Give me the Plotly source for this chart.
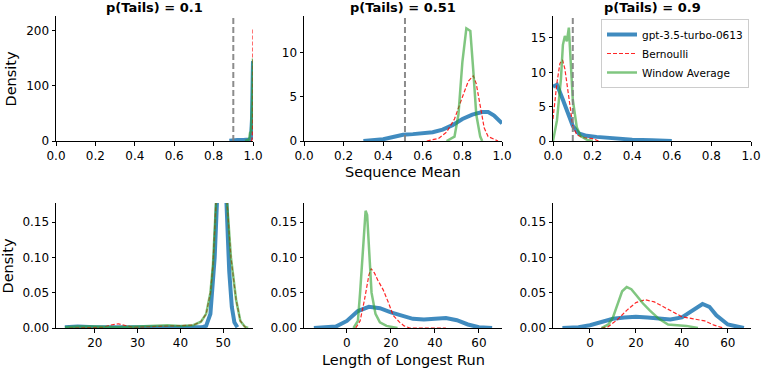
import plotly.graph_objects as go
from plotly.subplots import make_subplots

# column titles and the true p line drawn in the top row
titles = ["p(Tails) = 0.1", "p(Tails) = 0.51", "p(Tails) = 0.9"]
ref_means = [0.9, 0.51, 0.1]

# --- top row: density of the sequence mean ---
gpt_mean_x = [
    [0.88, 0.9, 0.92, 0.95, 0.97, 0.98, 0.99, 0.995, 1.0],
    [0.3, 0.35, 0.4, 0.45, 0.5, 0.55, 0.6, 0.65, 0.7, 0.75, 0.8, 0.85, 0.9, 0.93, 0.96, 1.0],
    [0.0, 0.02, 0.05, 0.08, 0.1, 0.13, 0.17, 0.22, 0.3, 0.4, 0.5, 0.6],
]
gpt_mean_y = [
    [0.5, 1.5, 2, 2, 2, 2.5, 5, 40, 145],
    [0.0, 0.05, 0.2, 0.45, 0.7, 0.78, 0.85, 1.0, 1.3, 1.8, 2.5, 3.0, 3.3, 3.3, 2.9, 2.0],
    [7.9, 8.2, 6.0, 3.5, 2.2, 1.1, 0.75, 0.6, 0.4, 0.2, 0.1, 0.0],
]
bern_mean_x = [
    [0.99, 0.995, 0.998, 1.0],
    [0.62, 0.68, 0.72, 0.76, 0.8, 0.83, 0.855, 0.87, 0.89, 0.91, 0.93, 0.96, 0.98],
    [0.0, 0.02, 0.035, 0.048, 0.06, 0.08, 0.1, 0.12, 0.15, 0.2, 0.23],
]
bern_mean_y = [
    [0, 2, 30, 205],
    [0.0, 0.3, 1.0, 2.5, 5.0, 6.8, 7.4, 6.5, 4.0, 1.5, 0.5, 0.2, 0.0],
    [3.2, 8.5, 11.3, 11.8, 10.5, 6.0, 2.2, 0.9, 0.5, 0.35, 0.0],
]
win_mean_x = [
    [0.96, 0.97, 0.98, 0.985, 0.99, 0.995, 1.0],
    [0.72, 0.76, 0.78, 0.8, 0.82, 0.84, 0.855, 0.87, 0.89, 0.9],
    [0.0, 0.02, 0.04, 0.05, 0.06, 0.07, 0.08, 0.09, 0.1, 0.12, 0.14, 0.17, 0.2],
]
win_mean_y = [
    [0, 1, 3, 15, 17, 60, 150],
    [0.0, 0.5, 3.0, 9.0, 12.8, 12.5, 8.0, 3.0, 0.5, 0.0],
    [0.0, 3.0, 9.0, 14.0, 15.3, 14.5, 16.5, 12.0, 6.0, 2.0, 0.7, 0.2, 0.0],
]

# --- bottom row: density of the length of the longest run ---
gpt_run_x = [
    [13, 16, 20, 25, 30, 35, 40, 45, 46, 47, 48, 48.8, 49.7, 50.6, 51.4, 52, 52.6, 53.3],
    [-15, -10, -5, 0, 5, 10, 15, 20, 25, 30, 35, 40, 45, 50, 55, 60, 66],
    [-12, -5, 0, 5, 10, 15, 20, 25, 30, 35, 40, 45, 49, 52, 55, 60, 67],
]
gpt_run_y = [
    [0.001, 0.002, 0.001, 0.001, 0.001, 0.001, 0.001, 0.001, 0.003, 0.02, 0.1, 0.2, 0.35, 0.2, 0.08, 0.03, 0.008, 0.001],
    [0.0, 0.0005, 0.002, 0.01, 0.024, 0.03, 0.028, 0.022, 0.017, 0.013, 0.012, 0.013, 0.014, 0.011, 0.005, 0.001, 0.0],
    [0.0, 0.001, 0.004, 0.009, 0.013, 0.015, 0.016, 0.015, 0.013, 0.012, 0.015, 0.025, 0.034, 0.03, 0.018, 0.005, 0.0],
]
bern_run_x = [
    [14, 20, 22, 23.5, 25.5, 27.5, 29, 33, 38, 43, 44.8, 46, 47, 47.6, 48.3, 49.6, 50.9, 51.8, 53, 54, 55, 55.5],
    [4, 6, 8, 10, 11, 12.5, 14, 16.5, 19, 21, 24, 26, 28.6, 35, 40, 45],
    [5, 8, 12, 16, 20, 24, 28, 32, 36, 40, 45, 50, 54, 58],
]
bern_run_y = [
    [0.0, 0.001, 0.001, 0.004, 0.006, 0.003, 0.001, 0.002, 0.003, 0.004, 0.009, 0.02, 0.05, 0.09, 0.177, 0.3, 0.177, 0.1, 0.04, 0.01, 0.002, 0.0],
    [0.0, 0.01, 0.04, 0.075, 0.084, 0.078, 0.068, 0.054, 0.035, 0.018, 0.008, 0.003, 0.0, 0.0, 0.001, 0.0],
    [0.0, 0.002, 0.012, 0.025, 0.036, 0.04, 0.037, 0.03, 0.022, 0.016, 0.013, 0.01, 0.004, 0.0],
]
win_run_x = [
    [13, 16, 20, 25, 30, 33, 37, 40, 43, 44.8, 46, 47, 47.6, 48.3, 49.6, 50.9, 51.8, 53, 54, 55, 55.8],
    [3, 5, 6, 7, 8, 8.5, 9.2, 10, 11.2, 13, 15, 18, 23],
    [5, 8, 10, 12, 14, 16, 18, 20, 23, 26, 30, 34, 38, 42, 47],
]
win_run_y = [
    [0.001, 0.002, 0.002, 0.001, 0.002, 0.003, 0.004, 0.003, 0.004, 0.009, 0.02, 0.05, 0.09, 0.177, 0.3, 0.177, 0.1, 0.04, 0.01, 0.002, 0.0],
    [0.0, 0.01, 0.05, 0.1, 0.15, 0.166, 0.16, 0.11, 0.05, 0.02, 0.008, 0.003, 0.0],
    [0.0, 0.005, 0.015, 0.035, 0.052, 0.058, 0.055, 0.047, 0.035, 0.025, 0.013, 0.005, 0.004, 0.003, 0.0],
]

top_yranges = [[0, 227], [0, 14.2], [0, 18.2]]
top_yticks = [[0, 100, 200], [0, 5, 10], [0, 5, 10, 15]]
bottom_xranges = [[10.93, 56.95], [-19.5, 70.5], [-16.1, 70.1]]
bottom_xticks = [[20, 30, 40, 50], [0, 20, 40, 60], [0, 20, 40, 60]]
bottom_yrange = [0, 0.177]
bottom_yticks = [0, 0.05, 0.1, 0.15]

BLUE = "rgba(31,119,180,0.85)"
RED = "rgba(255,0,0,0.85)"
GREEN = "rgba(44,160,44,0.6)"
W, H = 761, 368

fig = make_subplots(rows=2, cols=3)

names = ["gpt-3.5-turbo-0613", "Bernoulli", "Window Average"]
for c in range(3):
    show = c == 2
    series = [
        (gpt_mean_x[c], gpt_mean_y[c], dict(color=BLUE, width=4)),
        (bern_mean_x[c], bern_mean_y[c], dict(color=RED, width=1.2, dash="4px,2px")),
        (win_mean_x[c], win_mean_y[c], dict(color=GREEN, width=2.5)),
    ]
    for (x, y, ln), nm in zip(series, names):
        fig.add_trace(go.Scatter(x=x, y=y, mode="lines", line=ln, name=nm,
                                 showlegend=show), row=1, col=c + 1)
    fig.add_trace(go.Scatter(x=[ref_means[c], ref_means[c]], y=[0, top_yranges[c][1]], mode="lines",
                             line=dict(color="rgba(128,128,128,0.9)", width=2, dash="6px,3px"),
                             showlegend=False), row=1, col=c + 1)

    series = [
        (gpt_run_x[c], gpt_run_y[c], dict(color=BLUE, width=4)),
        (bern_run_x[c], bern_run_y[c], dict(color=RED, width=1.2, dash="4px,2px")),
        (win_run_x[c], win_run_y[c], dict(color=GREEN, width=2.5)),
    ]
    for (x, y, ln), nm in zip(series, names):
        fig.add_trace(go.Scatter(x=x, y=y, mode="lines", line=ln, name=nm,
                                 showlegend=False), row=2, col=c + 1)

# pixel boxes of the axes, as in the reference
col_px = [(56, 253), (304, 502), (553, 751)]
top_px = (16, 141)
bot_px = (203, 328)

axis_style = dict(showline=True, linecolor="black", linewidth=1, ticks="outside", ticklen=3.5,
                  tickwidth=1, tickcolor="black", showgrid=False, zeroline=False, automargin=False,
                  tickfont=dict(family="DejaVu Sans", size=12, color="black"))

for c in range(3):
    xd = [col_px[c][0] / W, col_px[c][1] / W]
    fig.update_xaxes(domain=xd, range=[0, 1], tickvals=[0, 0.2, 0.4, 0.6, 0.8, 1.0],
                     tickformat=".1f", **axis_style, row=1, col=c + 1)
    fig.update_yaxes(domain=[1 - top_px[1] / H, 1 - top_px[0] / H], range=top_yranges[c],
                     tickvals=top_yticks[c], **axis_style, row=1, col=c + 1)
    fig.update_xaxes(domain=xd, range=bottom_xranges[c], tickvals=bottom_xticks[c],
                     **axis_style, row=2, col=c + 1)
    fig.update_yaxes(domain=[1 - bot_px[1] / H, 1 - bot_px[0] / H], range=bottom_yrange,
                     tickvals=bottom_yticks, tickformat=".2f", **axis_style, row=2, col=c + 1)

ann = []
for c in range(3):
    ann.append(dict(x=(col_px[c][0] + col_px[c][1]) / 2 / W, y=1 - 7 / H, text="<b>" + titles[c] + "</b>",
                    showarrow=False, xref="paper", yref="paper", xanchor="center", yanchor="middle",
                    font=dict(family="DejaVu Sans", size=13, color="black")))
label_font = dict(family="DejaVu Sans", size=14.5, color="black")
ann.append(dict(x=11 / W, y=1 - 78.5 / H, text="Density", textangle=-90, showarrow=False,
                xref="paper", yref="paper", xanchor="center", yanchor="middle", font=label_font))
ann.append(dict(x=7 / W, y=1 - 265.5 / H, text="Density", textangle=-90, showarrow=False,
                xref="paper", yref="paper", xanchor="center", yanchor="middle", font=label_font))
ann.append(dict(x=403 / W, y=1 - 172 / H, text="Sequence Mean", showarrow=False,
                xref="paper", yref="paper", xanchor="center", yanchor="middle", font=label_font))
ann.append(dict(x=403 / W, y=1 - 360 / H, text="Length of Longest Run", showarrow=False,
                xref="paper", yref="paper", xanchor="center", yanchor="middle", font=label_font))

fig.update_layout(
    width=W, height=H, margin=dict(l=0, r=0, t=0, b=0, autoexpand=False),
    paper_bgcolor="white", plot_bgcolor="white",
    annotations=ann,
    legend=dict(x=601 / W, y=1 - 19 / H, xanchor="left", yanchor="top",
                bgcolor="rgba(255,255,255,0.85)", bordercolor="#cccccc", borderwidth=1,
                font=dict(family="DejaVu Sans", size=10.5, color="black"),
                tracegroupgap=0, itemwidth=30),
)

# the page body has a default 8px margin; drop it so the figure sits at the window corner
fig.write_html("out.html", config={"displayModeBar": False},
               post_script="document.body.style.margin='0px';")
